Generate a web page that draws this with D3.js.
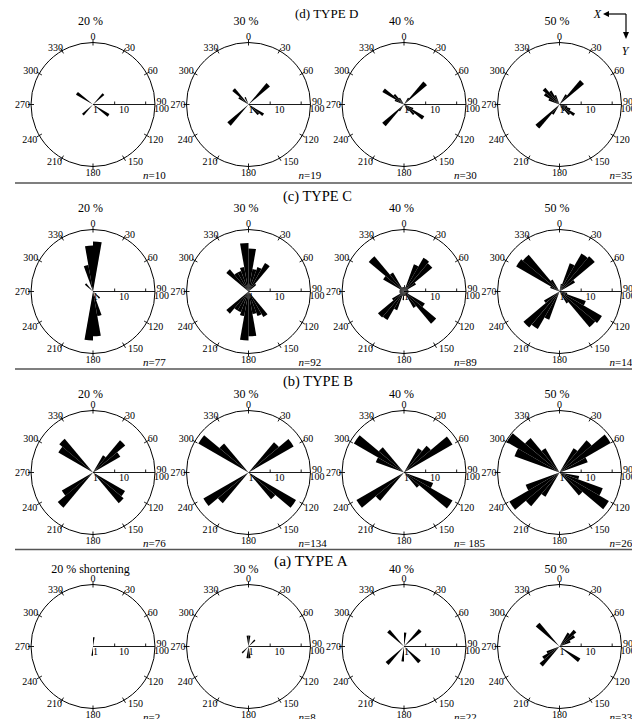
<!DOCTYPE html>
<html><head><meta charset="utf-8">
<script src="https://cdn.jsdelivr.net/npm/d3@7"></script>
<style>
html,body{margin:0;padding:0;background:#fff;}
svg{display:block;font-family:"Liberation Serif","Times New Roman",serif;}
</style></head><body>
<svg id="chart" width="632" height="719"></svg>
<script>
// ---------- DATA ----------
const typeTitles = ["(d) TYPE D", "(c) TYPE C", "(b) TYPE B", "(a) TYPE A"];
const shorteningLabels = ["20 %", "30 %", "40 %", "50 %"];
const firstShorteningLabelA = "20 % shortening";
const angleTickLabels = [0, 30, 60, 90, 120, 150, 180, 210, 240, 270, 300, 330];
const radialTickValues = [5, 50];
const radialTickLabels = [1, 10, 100];
const binWidth = 10; // degrees, 36 bins from 0 to 350

const countsD = ["n=10", "n=19", "n=30", "n=35"];
const countsC = ["n=77", "n=92", "n=89", "n=146"];
const countsB = ["n=76", "n=134", "n= 185", "n=268"];
const countsA = ["n=2", "n=8", "n=22", "n=33"];

// petal values per 10° bin (index = bin start / 10), log radial scale 1..100
const typeD20 = [0,0,0,0,3.0,0,0,0,0,0,0,0,4.1,0,0,0,0,0,0,0,0,0,2.9,0,0,0,0,0,0,0,4.3,0,0,0,0,0];
const typeD30 = [0,0,0,0,8.0,0,0,0,0,0,0,0,3.8,2.8,0,0,0,0,0,0,0,0,7.8,0,0,0,0,0,0,0,2.4,4.8,0,1.8,0,0];
const typeD40 = [0,0,0,1.8,9.3,0,0,0,0,0,0,2.1,5.7,2.8,1.8,0,0,0,0,0,0,1.8,8.3,0,0,0,0,0,0,2.1,6.4,2.8,1.8,0,0,0];
const typeD50 = [0,0,0,2.4,10.8,0,0,0,0,0,1.8,2.4,3.8,2.8,1.8,0,0,0,0,0,0,2.4,10.3,0,0,0,0,0,0,2.4,3.8,5.1,3.3,2.1,0,0];

const typeC20 = [41,0,0,0,0,0,0,0,0,0,0,0,0,2.0,0,0,6.4,28,38,0,0,0,0,0,0,0,0,0,0,0,0,2.2,0,0,7.4,30.5];
const typeC30 = [24.5,5.5,7,11.6,2.1,0,0,0,0,0,0,0,0,0,9,7,5.5,28,38,6.4,5.1,5.1,8.6,0,0,0,0,0,0,0,0,8.6,5.1,5.1,6.4,37];
const typeC40 = [1.6,1.4,8.6,18,15.6,2.8,1.4,1.4,1.4,1.4,1.4,1.4,6,22.7,4.1,1.4,1.4,1.4,1.9,1.4,4.4,11.6,12.5,2.8,1.4,1.4,1.4,1.4,1.4,1.4,6,30.5,5.1,1.4,1.4,1.4];
const typeC50 = [0,1.8,9.3,26,30.5,3.8,0,0,0,0,1.8,8,38,32,2.8,0,0,0,0,0,9.3,25,33,3.8,0,0,0,0,0,2.1,41,35,2.8,0,0,0];

const typeB20 = [0,0,0,4.4,22.7,10.4,0,0,0,0,0,0,15.6,19.5,0,0,0,0,0,0,0,0,30.5,14.5,0,0,0,0,0,0,19.5,26.3,0,0,0,0];
const typeB30 = [0,0,0,0,19,48,0,0,0,0,0,0,59,13.5,0,0,0,0,0,0,0,0,19.5,48,0,0,0,0,0,0,74,16.8,0,0,0,0];
const typeB40 = [0,0,0,8,13.5,64,0,0,0,0,0,10,64,4.4,0,0,0,0,0,0,0,0,15.6,59,0,0,0,0,0,9.3,74,11.6,0,0,0,0];
const typeB50 = [0,0,0,8,22.7,80,9.3,0,0,0,4.4,30.5,69,9.3,0,0,0,0,0,0,0,8,26.3,74,14.5,0,0,0,0,35,93,28.3,8,0,0,0];

const typeA20 = [2.0,0,0,0,0,0,0,0,0,0,0,0,0,0,0,0,0,0,2.0,0,0,0,0,0,0,0,0,0,0,0,0,0,0,0,0,0];
const typeA30 = [2.26,0,0,0,1.95,0,0,0,0,0,0,0,0,0,0,0,0,2.4,2.4,0,0,0,1.95,0,0,0,0,0,0,0,0,0,0,0,0,2.26];
const typeA40 = [2.83,0,0,0,5.5,0,0,0,0,0,0,0,0,5.1,0,0,0,0,3.05,0,0,0,5.95,0,0,0,0,0,0,0,0,5.1,0,0,0,0];
const typeA50 = [0,0,0,3.3,5.1,3.8,2.4,0,0,0,0,0,6.0,0,0,0,0,0,0,0,0,0,6.9,4.4,2.8,0,0,0,0,0,0,10,0,0,0,0];

// ---------- LAYOUT ----------
const rows = [
  {title: typeTitles[0], data: [typeD20, typeD30, typeD40, typeD50], counts: countsD, cy: 104.5, titleX: 295, titleY: 18, titleSize: 13, pctY: 25},
  {title: typeTitles[1], data: [typeC20, typeC30, typeC40, typeC50], counts: countsC, cy: 291.5, titleX: 283, titleY: 201, titleSize: 14.5, pctY: 212},
  {title: typeTitles[2], data: [typeB20, typeB30, typeB40, typeB50], counts: countsB, cy: 472.5, titleX: 283, titleY: 386, titleSize: 14.5, pctY: 397.5},
  {title: typeTitles[3], data: [typeA20, typeA30, typeA40, typeA50], counts: countsA, cy: 646.5, titleX: 274, titleY: 566, titleSize: 15.5, pctY: 572.5}
];
const separatorsY = [183, 369, 549.5];

const svg = d3.select("#chart");
const R = 62;
const colX = d3.scaleLinear().domain([0, 3]).range([93, 559.5]);
const rScale = d3.scaleLog().domain([1, 100]).range([0, R]).clamp(true);
const aScale = d3.scaleLinear().domain([0, 360]).range([0, 2 * Math.PI]);
const arc = d3.arc().innerRadius(0);
const pol = (deg, r) => [r * Math.sin(deg * Math.PI / 180), -r * Math.cos(deg * Math.PI / 180)];

separatorsY.forEach(y => {
  svg.append("line").attr("x1", 15).attr("x2", 632).attr("y1", y).attr("y2", y)
    .attr("stroke", "#555").attr("stroke-width", 1.3);
});

rows.forEach((row, ri) => {
  svg.append("text").attr("x", row.titleX).attr("y", row.titleY)
    .attr("font-size", row.titleSize).text(row.title);

  row.data.forEach((vals, ci) => {
    const cx = colX(ci), cy = row.cy;
    const g = svg.append("g").attr("transform", `translate(${cx},${cy})`);

    // shortening label
    svg.append("text").attr("x", cx - 2.5).attr("y", row.pctY)
      .attr("text-anchor", "middle").attr("font-size", 12)
      .text(ri === 3 && ci === 0 ? firstShorteningLabelA : shorteningLabels[ci]);

    g.append("circle").attr("r", R).attr("fill", "none").attr("stroke", "#000").attr("stroke-width", 1);

    // angular ticks and labels
    angleTickLabels.forEach(a => {
      if (a !== 90) {
        const p1 = pol(a, R - 3), p2 = pol(a, R + 3);
        g.append("line").attr("x1", p1[0]).attr("y1", p1[1]).attr("x2", p2[0]).attr("y2", p2[1])
          .attr("stroke", "#000").attr("stroke-width", 0.9);
      }
      const t = pol(a, R);
      const lab = g.append("text").attr("font-size", 10);
      if (a === 0) {
        lab.attr("x", 0).attr("y", -R - 2.5).attr("text-anchor", "middle").text(a);
      } else if (a === 180) {
        lab.attr("x", 0).attr("y", R + 9).attr("text-anchor", "middle").text(a);
      } else if (a === 90) {
        lab.attr("x", R + 1.5).attr("y", 0.5).text(a);
        g.append("text").attr("font-size", 10).attr("x", R - 1).attr("y", 7.5)
          .text(radialTickLabels[2]);
      } else if (a === 270) {
        lab.attr("x", -R - 1).attr("y", 3.5).attr("text-anchor", "end").text(a);
      } else if (a < 90) {
        lab.attr("x", t[0] + 1).attr("y", t[1] + 0.5).text(a);
      } else if (a < 180) {
        lab.attr("x", t[0] + (a === 150 ? 4 : 1.5)).attr("y", t[1] + 7).text(a);
      } else if (a < 270) {
        lab.attr("x", t[0] - (a === 240 ? 2 : 0)).attr("y", t[1] + 7).attr("text-anchor", "end").text(a);
      } else {
        lab.attr("x", t[0] + (a === 330 ? 1 : -1)).attr("y", t[1] + 0.5).attr("text-anchor", "end").text(a);
      }
    });

    // radial axis (log scale)
    g.append("line").attr("x1", 0).attr("y1", 0).attr("x2", rScale(100)).attr("y2", 0)
      .attr("stroke", "#000").attr("stroke-width", 0.9);
    radialTickValues.forEach(v => {
      g.append("line").attr("x1", rScale(v)).attr("x2", rScale(v)).attr("y1", -3).attr("y2", 0)
        .attr("stroke", "#000").attr("stroke-width", 0.9);
    });
    g.append("text").attr("font-size", 10).attr("x", rScale(radialTickLabels[0]) + 2.5).attr("y", 8)
      .attr("text-anchor", "middle").text(radialTickLabels[0]);
    g.append("text").attr("font-size", 10).attr("x", rScale(radialTickLabels[1])).attr("y", 8)
      .attr("text-anchor", "middle").text(radialTickLabels[1]);

    // petals
    const bins = vals.map((v, i) => ({start: i * binWidth, v})).filter(d => d.v > 1);
    g.selectAll("path.petal").data(bins).enter().append("path").attr("class", "petal")
      .attr("d", d => arc({outerRadius: rScale(d.v), startAngle: aScale(d.start), endAngle: aScale(d.start + binWidth)}))
      .attr("fill", "#000");

    // count label
    const nt = svg.append("text").attr("x", cx + 50).attr("y", cy + 74).attr("font-size", 11);
    const s = row.counts[ci];
    nt.append("tspan").attr("font-style", "italic").text(s.slice(0, 1));
    nt.append("tspan").text(s.slice(1));
  });
});

// X / Y orientation indicator
const ind = svg.append("g");
ind.append("line").attr("x1", 608).attr("y1", 14).attr("x2", 626).attr("y2", 14).attr("stroke", "#000").attr("stroke-width", 1.2);
ind.append("path").attr("d", "M603,14 L609,11 L609,17 Z").attr("fill", "#000");
ind.append("line").attr("x1", 626).attr("y1", 14).attr("x2", 626).attr("y2", 33).attr("stroke", "#000").attr("stroke-width", 1.2);
ind.append("path").attr("d", "M626,39 L623,32 L629,32 Z").attr("fill", "#000");
ind.append("text").attr("x", 601).attr("y", 18).attr("text-anchor", "end").attr("font-size", 12).attr("font-style", "italic").text("X");
ind.append("text").attr("x", 625).attr("y", 55).attr("text-anchor", "middle").attr("font-size", 12).attr("font-style", "italic").text("Y");
</script>
</body></html>
